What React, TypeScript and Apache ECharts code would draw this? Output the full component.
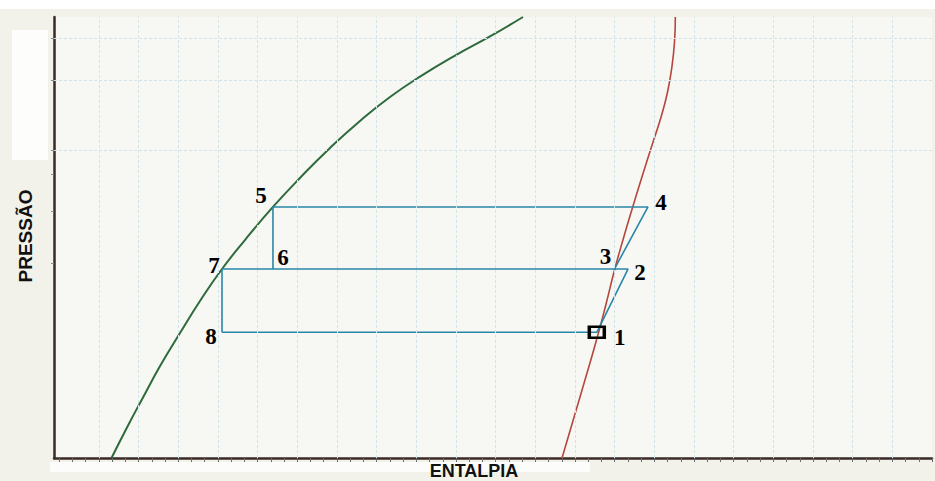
import React, { useEffect, useRef } from 'react';
import * as echarts from 'echarts';

// Saturated liquid curve (green): enthalpy / pressure
const liquidH = [189.5, 201.2, 213.3, 226.2, 241.3, 256.4, 273.05, 290.4, 311.6, 332.0, 354.7, 377.4, 400.1, 422.8, 449.3, 475.7, 500.7];
const liquidP = [0, 2.77, 5.49, 8.34, 11.34, 14.24, 17.14, 19.77, 22.77, 25.4, 28.12, 30.57, 32.74, 34.59, 36.5, 38.24, 40.0];

// Saturated vapour curve (red)
const vaporH = [530.2, 540.0, 549.1, 556.7, 563.5, 569.9, 576.7, 583.9, 591.1, 598.3, 605.1, 610.0, 613.4, 615.3, 615.9];
const vaporP = [0, 3.99, 7.71, 10.88, 13.97, 17.05, 19.95, 22.86, 25.67, 28.39, 30.93, 33.2, 35.56, 37.82, 40.0];

// Cycle state points
const pointNames = ['1', '2', '3', '4', '5', '6', '7', '8'];
const pointH = [556.5, 580.1, 569.8, 595.2, 311.6, 311.6, 273.05, 273.05];
const pointP = [11.4, 17.14, 17.14, 22.77, 22.77, 17.14, 17.14, 11.4];

// Cycle paths (point names), drawn in order
const pathA = ['8', '1', '2', '7', '8'];
const pathB = ['6', '5', '4', '3'];

// Grid lines
const gridH = [180, 210, 240, 270, 300, 330, 360, 390, 420, 450, 480, 510, 540, 570, 600, 630, 660, 690, 720, 750, 780];
const gridP = [27.9, 34.3, 38.1];
const tickP = [17.7, 22.4, 25.7, 27.9, 34.3, 38.1];

// label offsets (style)
const labelOffsets: [number, number][] = [
  [23, 5], [12, 3], [-9, -13], [13, -4], [-12, -11], [10, -12], [-8, -4], [-11, 4],
];

export default function App() {
  const ref = useRef<HTMLDivElement>(null);
  useEffect(() => {
    if (!ref.current) return;
    const chart = echarts.init(ref.current, undefined, { renderer: 'svg' });
    const idx = (n: string) => pointNames.indexOf(n);
    const pathData = [
      ...pathA.map((n) => [pointH[idx(n)], pointP[idx(n)]]),
      '-',
      ...pathB.map((n) => [pointH[idx(n)], pointP[idx(n)]]),
    ];
    const minorTicks: number[] = [];
    for (let v = 150; v <= 810; v += 10) minorTicks.push(v);

    chart.setOption({
      animation: false,
      backgroundColor: '#f2f2eb',
      grid: {
        left: 54, right: 3, top: 17, bottom: 23,
        show: true, backgroundColor: '#f7f7f3', borderWidth: 0,
      },
      xAxis: {
        type: 'value', min: 146, max: 810,
        axisLine: { show: true, onZero: false, lineStyle: { color: '#3a2a26', width: 2.5 } },
        axisTick: { show: true, customValues: minorTicks, length: 4, lineStyle: { color: '#6a6a6a', width: 1 } },
        axisLabel: { show: false },
        splitLine: { show: false },
      },
      yAxis: {
        type: 'value', min: 0, max: 40,
        axisLine: { show: true, onZero: false, lineStyle: { color: '#3a2a26', width: 2.5 } },
        axisTick: { show: true, customValues: tickP, length: 3, lineStyle: { color: '#8a8a8a', width: 1 } },
        axisLabel: { show: false },
        splitLine: { show: false },
      },
      graphic: [
        { type: 'rect', shape: { x: 0, y: 0, width: 935, height: 9 }, style: { fill: '#ffffff' }, silent: true },
        { type: 'rect', shape: { x: 12, y: 30, width: 36, height: 130 }, style: { fill: '#fdfdfb' }, silent: true },
        { type: 'rect', shape: { x: 50, y: 462, width: 540, height: 10 }, style: { fill: '#fcfcfa' }, silent: true },
        {
          type: 'text', x: 25, y: 236, rotation: Math.PI / 2,
          style: { text: 'PRESSÃO', fill: '#111', font: 'bold 19px "Liberation Sans", Arial, sans-serif', align: 'center', verticalAlign: 'middle' },
        },
        {
          type: 'text', x: 474, y: 471,
          style: { text: 'ENTALPIA', fill: '#111', font: 'bold 18px "Liberation Sans", Arial, sans-serif', align: 'center', verticalAlign: 'middle' },
        },
      ],
      series: [
        {
          type: 'line', data: [], silent: true,
          markLine: {
            silent: true, symbol: ['none', 'none'], label: { show: false },
            lineStyle: { color: '#d2e4ea', type: [3, 2], width: 1 },
            data: [
              ...gridH.map((v) => ({ xAxis: v })),
              ...gridP.map((v) => ({ yAxis: v })),
            ],
          },
        },
        {
          name: 'liquid', type: 'line', smooth: 0.5, symbol: 'none',
          lineStyle: { color: '#2d6a3c', width: 2 },
          data: liquidH.map((h, i) => [h, liquidP[i]]),
        },
        {
          name: 'vapor', type: 'line', smooth: 0.5, symbol: 'none',
          lineStyle: { color: '#b5473d', width: 1.6 },
          data: vaporH.map((h, i) => [h, vaporP[i]]),
        },
        {
          name: 'cycle', type: 'line', symbol: 'none', connectNulls: false,
          lineStyle: { color: '#2a86a8', width: 1.6 },
          data: pathData,
        },
        {
          name: 'marker', type: 'scatter', symbol: 'rect', symbolSize: [15, 11],
          itemStyle: { color: 'rgba(0,0,0,0)', borderColor: '#000', borderWidth: 3, opacity: 1 },
          data: [[pointH[0], pointP[0]]],
          z: 5,
        },
        {
          name: 'labels', type: 'scatter', symbolSize: 1,
          itemStyle: { color: 'rgba(0,0,0,0)', opacity: 1 },
          label: {
            show: true, position: 'inside', formatter: '{b}',
            fontFamily: '"Liberation Serif", "Times New Roman", serif', fontWeight: 'bold', fontSize: 23,
            color: '#000', textBorderWidth: 0, opacity: 1,
          },
          data: pointNames.map((n, i) => ({
            name: n, value: [pointH[i], pointP[i]], label: { offset: labelOffsets[i] },
          })),
          z: 6,
        },
      ],
    });
    return () => chart.dispose();
  }, []);
  return <div ref={ref} style={{ position: 'fixed', left: 0, top: 0, width: 935, height: 481 }} />;
}
